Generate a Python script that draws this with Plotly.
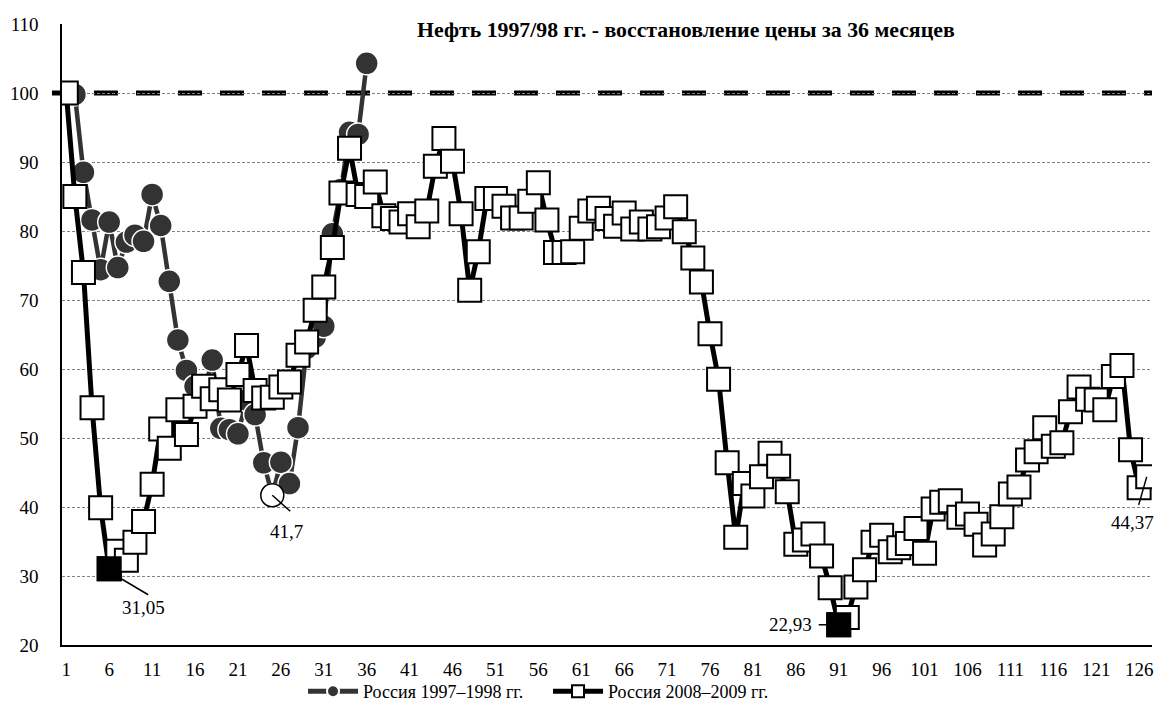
import plotly.graph_objects as go

# ---------------- data ----------------
months = list(range(1, 128))

russia_1997 = [
    100.0, 99.8, 88.5, 81.6, 74.4, 81.3, 74.7, 78.4, 79.4, 78.5,
    85.3, 80.8, 72.7, 64.2, 59.8, 57.5, 56.5, 61.3, 51.4, 51.2,
    50.6, 55.5, 53.4, 46.4, 41.7, 46.5, 43.4, 51.5, 63.0, 64.6,
    66.2, 79.6, 86.0, 94.3, 94.0, 104.3,
]

russia_2008 = [
    100.0, 85.0, 74.0, 54.4, 39.9, 31.05, 33.6, 32.3, 34.9, 37.9,
    43.3, 51.3, 48.5, 54.1, 50.5, 54.6, 57.5, 55.7, 57.0, 55.5,
    59.2, 63.4, 56.9, 55.8, 55.9, 57.4, 58.1, 62.0, 63.9, 68.5,
    71.9, 77.6, 85.5, 92.0, 85.3, 85.0, 87.1, 82.2, 81.8, 81.3,
    82.5, 80.6, 82.9, 89.4, 93.4, 90.1, 82.5, 71.4, 77.0, 84.7,
    84.7, 83.6, 81.9, 81.9, 84.3, 87.0, 81.6, 76.9, 76.9, 77.0,
    80.4, 82.9, 83.3, 81.8, 80.7, 82.6, 80.3, 81.3, 80.3, 80.6,
    81.9, 83.5, 79.9, 76.1, 72.6, 65.1, 58.5, 46.4, 35.6, 43.4,
    41.6, 44.4, 47.8, 45.9, 42.2, 34.6, 35.2, 36.1, 32.9, 28.3,
    22.93, 24.0, 28.4, 30.9, 34.9, 35.9, 33.5, 34.1, 34.7, 36.9,
    33.3, 39.7, 40.7, 40.9, 38.5, 39.0, 37.5, 34.5, 36.1, 38.6,
    41.9, 42.9, 46.8, 48.0, 51.5, 48.8, 49.3, 53.8, 57.4, 55.6,
    55.5, 54.1, 58.9, 60.5, 48.3, 42.8, 44.37,
]

series_names = ["Россия 1997–1998 гг.", "Россия 2008–2009 гг."]
title_text = "Нефть 1997/98 гг. - восстановление цены за 36 месяцев"
x_tick_vals = list(range(1, 127, 5))
y_tick_vals = list(range(20, 111, 10))
base_level = 100

# highlighted points (month numbers)
min_1997_month = 25
min_2008_months = [6, 91]
last_2008_month = 127

# ---------------- figure ----------------
SERIF = "Liberation Serif, Times New Roman, serif"
fig = go.Figure()

fig.add_trace(go.Scatter(
    x=months[:len(russia_1997)], y=russia_1997, mode="lines+markers",
    name=series_names[0],
    line=dict(color="#333333", width=4.5),
    marker=dict(symbol="circle", size=23, color="#333333",
                line=dict(color="white", width=1.5)),
))
fig.add_trace(go.Scatter(
    x=[min_1997_month], y=[russia_1997[min_1997_month - 1]], mode="markers",
    showlegend=False,
    marker=dict(symbol="circle", size=23, color="white",
                line=dict(color="black", width=1.5)),
))
fig.add_trace(go.Scatter(
    x=months, y=russia_2008, mode="lines+markers",
    name=series_names[1],
    line=dict(color="black", width=5),
    marker=dict(symbol="square", size=23, color="white",
                line=dict(color="black", width=2)),
))
fig.add_trace(go.Scatter(
    x=min_2008_months, y=[russia_2008[m - 1] for m in min_2008_months],
    mode="markers", showlegend=False,
    marker=dict(symbol="square", size=23, color="black",
                line=dict(color="black", width=2)),
))


def fmt(v):
    s = f"{v:.2f}".rstrip("0").rstrip(".")
    return s.replace(".", ",")


labels = [
    # (month, value, text offset px, leader line start px, leader line end px)
    (6, russia_2008[5], (34, -39), (12, -10), (39, -26)),
    (min_1997_month, russia_1997[min_1997_month - 1], (14, -36), (0, 0), (18, -16)),
    (91, russia_2008[90], (-48, 0), (-20, 0), (-10, 0)),
    (last_2008_month, russia_2008[-1], (-15, -46), (-1, 0), (-9, -28)),
]

annotations = []
shapes = [dict(type="line", xref="paper", yref="y", x0=-0.0092, x1=1,
               y0=base_level, y1=base_level, layer="between",
               line=dict(color="black", width=5, dash="24px,18px"))]
for m, v, (tx, ty), (lx0, ly0), (lx1, ly1) in labels:
    annotations.append(dict(x=m, y=v, xref="x", yref="y", text=fmt(v),
                            showarrow=False, xshift=tx, yshift=ty,
                            font=dict(family=SERIF, size=19, color="black")))
    shapes.append(dict(type="line", xref="x", yref="y", xsizemode="pixel",
                       ysizemode="pixel", xanchor=m, yanchor=v,
                       x0=lx0, y0=ly0, x1=lx1, y1=ly1,
                       line=dict(color="black", width=1.5)))

annotations.append(dict(x=0.5725, y=0.99, xref="paper", yref="paper",
                        xanchor="center", yanchor="middle",
                        text="<b>" + title_text + "</b>", showarrow=False,
                        font=dict(family=SERIF, size=21.8, color="black")))

# page body has an 8px margin: size the figure so it fits the 1165x710 window
fig.update_layout(
    width=1149, height=694,
    margin=dict(l=54, r=5, t=16, b=57, autoexpand=False),
    paper_bgcolor="white", plot_bgcolor="white",
    font=dict(family=SERIF, size=19, color="black"),
    showlegend=True,
    legend=dict(orientation="h", xref="container", yref="container",
                x=0.47, xanchor="center", y=0.015, yanchor="middle",
                font=dict(family=SERIF, size=18, color="black"),
                itemsizing="constant", itemwidth=50, entrywidth=180,
                entrywidthmode="pixels", bgcolor="rgba(0,0,0,0)"),
    annotations=annotations,
    shapes=shapes,
)
fig.update_xaxes(range=[0.5, 127.5], tickmode="array", tickvals=x_tick_vals,
                 ticktext=[str(v) for v in x_tick_vals], showgrid=False,
                 showline=True, linecolor="black", linewidth=1.5, zeroline=False,
                 ticks="", ticklabelstandoff=6,
                 tickfont=dict(family=SERIF, size=19, color="black"))
fig.update_yaxes(range=[20, 110], tickmode="array", tickvals=y_tick_vals,
                 showgrid=True, gridcolor="#808080", gridwidth=1, griddash="3px,2px",
                 showline=True, linecolor="black", linewidth=1.5, zeroline=False,
                 ticks="", ticklabelstandoff=18,
                 tickfont=dict(family=SERIF, size=19, color="black"))

fig.write_html("out.html")
